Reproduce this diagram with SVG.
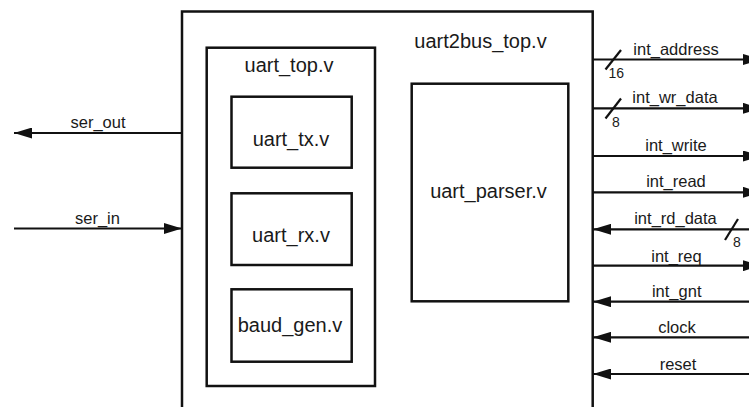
<svg xmlns="http://www.w3.org/2000/svg" width="749" height="407" viewBox="0 0 749 407">
  <style>
    .box { fill: #ffffff; stroke: #111111; stroke-width: 2.5; }
    .wire { fill: none; stroke: #111111; stroke-width: 2.2; }
    .tick { fill: none; stroke: #111111; stroke-width: 2.2; }
    .title { font-family: "Liberation Sans", Arial, sans-serif; font-size: 20px; fill: #1a1a1a; text-anchor: middle; }
    .sig { font-family: "Liberation Sans", Arial, sans-serif; font-size: 16.5px; fill: #1a1a1a; text-anchor: middle; }
    .width { font-family: "Liberation Sans", Arial, sans-serif; font-size: 14px; fill: #1a1a1a; }
  </style>
  <defs>
    <marker id="arrow" markerUnits="userSpaceOnUse" markerWidth="18" markerHeight="11" refX="18" refY="5.5" orient="auto">
      <path d="M0,0 L18,5.5 L0,11 Z" fill="#111111"/>
    </marker>
  </defs>
  <rect width="749" height="407" fill="#ffffff"/>

  <!-- top-level module -->
  <g id="uart2bus_top">
    <rect class="box" x="182" y="11.5" width="410.7" height="420"/>
    <text class="title" x="480.5" y="48">uart2bus_top.v</text>
  </g>

  <!-- UART wrapper and its sub-blocks -->
  <g id="uart_top">
    <rect class="box" x="206.7" y="47.7" width="168.3" height="338.3"/>
    <text class="title" x="289" y="72">uart_top.v</text>
  </g>
  <g id="uart_tx">
    <rect class="box" x="231.5" y="96.7" width="120.2" height="71"/>
    <text class="title" x="291" y="146">uart_tx.v</text>
  </g>
  <g id="uart_rx">
    <rect class="box" x="231.5" y="193.3" width="120.2" height="71.7"/>
    <text class="title" x="291" y="241.5">uart_rx.v</text>
  </g>
  <g id="baud_gen">
    <rect class="box" x="231.5" y="289.3" width="120.2" height="72.4"/>
    <text class="title" x="290" y="331.5">baud_gen.v</text>
  </g>

  <!-- command parser -->
  <g id="uart_parser">
    <rect class="box" x="411.7" y="83.7" width="156.6" height="217.6"/>
    <text class="title" x="488.5" y="198.3">uart_parser.v</text>
  </g>

  <!-- port wires -->
  <g id="connectors">
    <!-- serial side -->
    <line class="wire" x1="182" y1="133" x2="14" y2="133" marker-end="url(#arrow)"/>
    <text class="sig" x="98" y="127.5">ser_out</text>
    <line class="wire" x1="14" y1="228.5" x2="182" y2="228.5" marker-end="url(#arrow)"/>
    <text class="sig" x="97.5" y="224">ser_in</text>

    <!-- bus side -->
    <line class="wire" x1="593" y1="59.5" x2="761" y2="59.5" marker-end="url(#arrow)"/>
    <line class="tick" x1="605.5" y1="69.5" x2="621" y2="50"/>
    <text class="width" x="608.5" y="78">16</text>
    <text class="sig" x="676" y="55">int_address</text>

    <line class="wire" x1="593" y1="108.3" x2="761" y2="108.3" marker-end="url(#arrow)"/>
    <line class="tick" x1="605.5" y1="118.5" x2="621" y2="98.5"/>
    <text class="width" x="612" y="126.7">8</text>
    <text class="sig" x="675" y="102.7">int_wr_data</text>

    <line class="wire" x1="593" y1="156" x2="761" y2="156" marker-end="url(#arrow)"/>
    <text class="sig" x="676" y="150.7">int_write</text>

    <line class="wire" x1="593" y1="192.3" x2="761" y2="192.3" marker-end="url(#arrow)"/>
    <text class="sig" x="676" y="186.7">int_read</text>

    <line class="wire" x1="761" y1="229.3" x2="593" y2="229.3" marker-end="url(#arrow)"/>
    <line class="tick" x1="725" y1="240" x2="738" y2="219"/>
    <text class="width" x="733" y="247">8</text>
    <text class="sig" x="675.5" y="224">int_rd_data</text>

    <line class="wire" x1="593" y1="265.7" x2="761" y2="265.7" marker-end="url(#arrow)"/>
    <text class="sig" x="676.5" y="261.5">int_req</text>

    <line class="wire" x1="761" y1="301.7" x2="593" y2="301.7" marker-end="url(#arrow)"/>
    <text class="sig" x="676.7" y="297.3">int_gnt</text>

    <line class="wire" x1="761" y1="337.3" x2="593" y2="337.3" marker-end="url(#arrow)"/>
    <text class="sig" x="677" y="333.3">clock</text>

    <line class="wire" x1="761" y1="374" x2="593" y2="374" marker-end="url(#arrow)"/>
    <text class="sig" x="678" y="370">reset</text>
  </g>
</svg>
